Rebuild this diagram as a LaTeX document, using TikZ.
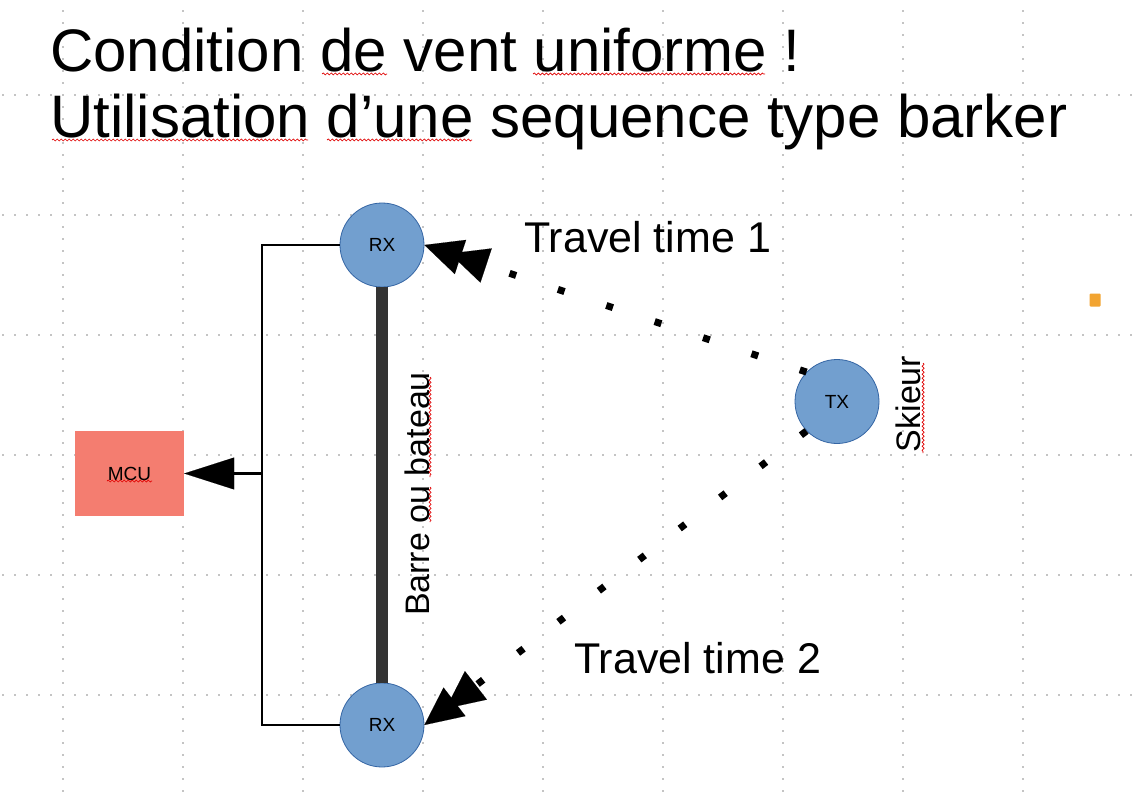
\documentclass[tikz,border=0pt]{standalone}
\usepackage{fontspec}
\setmainfont{Liberation Sans}
\usetikzlibrary{arrows.meta, positioning, decorations.pathmorphing}
\definecolor{cGrid}{HTML}{C4C4C4}
\definecolor{cNodeFill}{HTML}{729FCF}
\definecolor{cNodeBorder}{HTML}{3465A4}
\definecolor{cMcu}{HTML}{F47D70}
\definecolor{cBar}{HTML}{333333}
\definecolor{cSpell}{HTML}{E00000}
\definecolor{cNote}{HTML}{F2A431}

\begin{document}
\begin{tikzpicture}[
    x=1pt, y=-1pt,
    % Text styles
    title/.style={anchor=base west, inner sep=0pt, font=\fontsize{60}{66}\selectfont},
    travel_label/.style={anchor=base west, inner sep=0pt, font=\fontsize{43}{50}\selectfont},
    side_label/.style={anchor=base, rotate=90, inner sep=0pt, font=\fontsize{34}{40}\selectfont},
    % Core item styles
    antenna/.style={circle, draw=cNodeBorder, line width=0.8pt, fill=cNodeFill, minimum size=84pt, inner sep=0pt, font=\fontsize{19}{21}\selectfont},
    mcu_box/.style={rectangle, fill=cMcu, minimum width=109pt, minimum height=85pt, inner sep=0pt, font=\fontsize{19}{21}\selectfont},
    note_icon/.style={rectangle, rounded corners=1pt, fill=cNote, minimum width=11pt, minimum height=13pt, inner sep=0pt},
    % Line styles
    gridline/.style={cGrid, line width=1.1pt, dash pattern=on 1.1pt off 10.9pt},
    wire/.style={line width=2.8pt, line join=miter},
    bar/.style={cBar, line width=12pt},
    bus_arrow/.style={wire, -{Triangle[length=50pt, width=32pt, line width=0.1pt]}},
    signal/.style={line width=7pt, dash pattern=on 7pt off 44pt, -{Triangle[length=38pt, width=36pt, line width=0.1pt, sep=-11pt] Triangle[length=38pt, width=36pt, line width=0.1pt]}},
    squiggle/.style={cSpell, line width=0.7pt, decorate, decoration={snake, segment length=4pt, amplitude=1pt}}
]

% --- PAGE ---
\fill[white] (0,0) rectangle (1137,802);
\useasboundingbox (0,0) rectangle (1137,802);
\foreach \gx in {63,183,...,1023} \draw[gridline] (\gx,10.45) -- (\gx,802);
\foreach \gy in {95,215,...,695} \draw[gridline] (2.45,\gy) -- (1137,\gy);

% --- TITLE ---
\node[title] (title1) at (50,72) {Condition de vent uniforme !};
\node[title] (title2) at (50,138) {Utilisation d’une sequence type barker};

% --- RECEIVERS ---
\node[antenna] (rxtop) at (382,245) {RX};
\node[antenna] (rxbot) at (382,725) {RX};
\draw[bar] (rxtop.south) -- (rxbot.north);
\node[side_label] (boat) at (429,494) {Barre ou bateau};

% --- MCU ---
\node[mcu_box] (mcu) at (129.5,473.5) {MCU};
\coordinate (bus) at (262,473.5);
\draw[wire] (rxtop.west) -| (bus) |- (rxbot.west);
\draw[bus_arrow] (bus) -- (mcu.east);

% --- TRANSMITTER ---
\node[antenna] (tx) at (837,401.5) {TX};
\node[side_label] (skier) at (920,404) {Skieur};
\draw[signal] (tx.136) -- (rxtop.east);
\draw[signal] (tx.224) -- (rxbot.east);
\node[travel_label] (travel1) at (524,253) {Travel time 1};
\node[travel_label] (travel2) at (574,673) {Travel time 2};

\node[note_icon] (note) at (1095,300) {};

% --- SPELLING MARKS ---
\draw[squiggle] (322,74) -- (387,74);
\draw[squiggle] (533,74) -- (765,74);
\draw[squiggle] (52,140) -- (308,140);
\draw[squiggle] (327,140) -- (472,140);
\draw[squiggle] (107,481) -- (152,481);
\draw[squiggle] (430,377) -- (430,477);
\draw[squiggle] (430,487) -- (430,522);
\draw[squiggle] (923,363) -- (923,453);

\end{tikzpicture}
\end{document}
